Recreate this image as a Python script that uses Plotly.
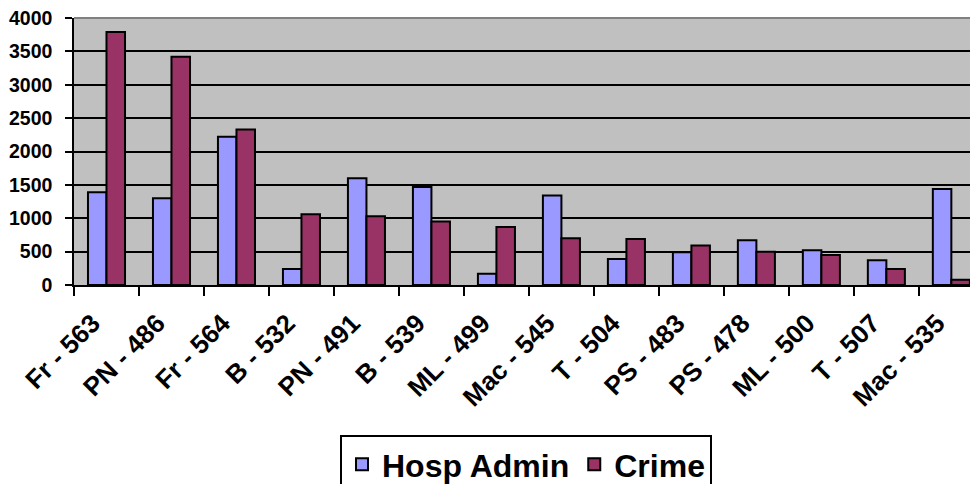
import plotly.graph_objects as go

categories = ["Fr - 563", "PN - 486", "Fr - 564", "B - 532", "PN - 491", "B - 539",
              "ML - 499", "Mac - 545", "T - 504", "PS - 483", "PS - 478", "ML - 500",
              "T - 507", "Mac - 535"]
hosp_admin = [1390, 1300, 2220, 240, 1600, 1470, 170, 1340, 390, 490, 670, 520, 370, 1440]
crime = [3790, 3420, 2330, 1060, 1030, 950, 870, 700, 690, 590, 500, 450, 240, 80]

font = dict(family="Liberation Sans, Arial, sans-serif", color="black", weight="bold")

fig = go.Figure()
fig.add_trace(go.Bar(x=categories, y=hosp_admin, name="Hosp Admin",
                     marker=dict(color="#9999FF", line=dict(color="black", width=2))))
fig.add_trace(go.Bar(x=categories, y=crime, name="Crime",
                     marker=dict(color="#993366", line=dict(color="black", width=2))))

# the page body adds an 8px margin, so the figure is 8px smaller and shifted
fig.update_layout(
    width=970, height=476,
    margin=dict(l=66, r=0, t=10, b=199, autoexpand=False),
    paper_bgcolor="white", plot_bgcolor="#C0C0C0",
    barmode="group", bargap=0.43, bargroupgap=0,
    font=font,
    legend=dict(orientation="h", x=0.5, xanchor="center", y=-0.562, yanchor="top",
                bordercolor="black", borderwidth=2, bgcolor="white",
                font=dict(size=32, **font), itemwidth=30),
)
fig.update_xaxes(
    type="category", range=[-0.5, 13.41], tickson="boundaries",
    ticks="outside", ticklen=9, tickwidth=1.5, tickcolor="black",
    showline=True, linecolor="black", linewidth=1.5,
    tickangle=-45, tickfont=dict(size=26, **font), ticklabelstandoff=11,
    ticklabelshift=-14, ticklabeloverflow="allow",
    showgrid=False, automargin=False,
)
fig.update_yaxes(
    range=[0, 4000], dtick=500, ticks="outside", ticklen=7, tickwidth=1.5,
    tickcolor="black", showline=True, linecolor="black", linewidth=1.5,
    showgrid=True, gridcolor="black", gridwidth=1.5, zeroline=False,
    tickfont=dict(size=19.5, **font), ticklabelstandoff=9,
    ticklabeloverflow="allow", automargin=False,
)
# grey top border of the plot area
fig.add_shape(type="line", xref="paper", yref="paper", x0=0, x1=1, y0=1, y1=1,
              line=dict(color="#808080", width=2))

fig.write_html("out.html")
